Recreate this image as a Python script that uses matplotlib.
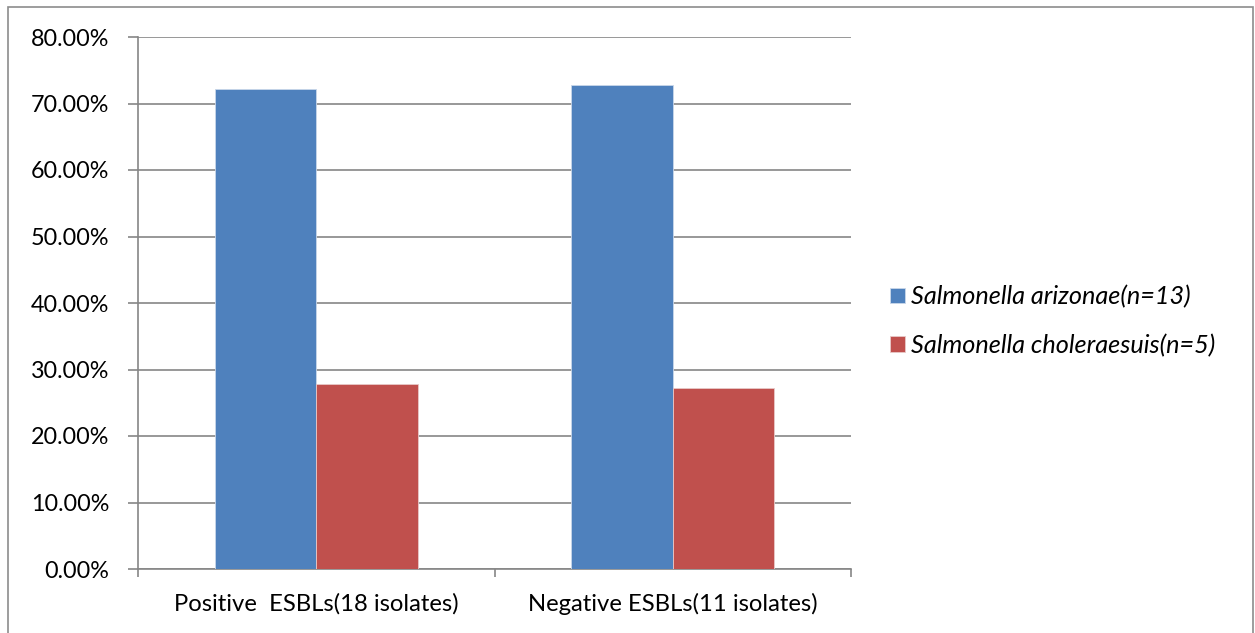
import matplotlib
matplotlib.use("Agg")
import matplotlib.pyplot as plt
from matplotlib.patches import Rectangle
from matplotlib.ticker import FuncFormatter, MultipleLocator
import numpy as np

categories = ["Positive  ESBLs(18 isolates)", "Negative ESBLs(11 isolates)"]
series_names = ["Salmonella arizonae(n=13)", "Salmonella choleraesuis(n=5)"]
arizonae = [72.22, 72.73]
choleraesuis = [27.78, 27.27]
colors = ["#4F81BD", "#C0504D"]

plt.rcParams["font.family"] = ["Lato", "DejaVu Sans"]

W, H = 1255, 633
fig = plt.figure(figsize=(W / 100, H / 100), dpi=100)
fig.patch.set_facecolor("white")

# outer chart frame
fig.add_artist(Rectangle((8 / W, -0.01), (1253 - 8) / W, 1 - 7 / H + 0.01,
                         transform=fig.transFigure, fill=False,
                         edgecolor="#8c8c8c", lw=1.2))

ax = fig.add_axes([138 / W, 1 - 569 / H, (851 - 138) / W, (569 - 37) / H])

x = np.arange(len(categories))
bw = 0.285
ax.bar(x - bw / 2, arizonae, bw, color=colors[0], edgecolor="#c9d7ea",
       lw=0.6, label=series_names[0], zorder=3)
ax.bar(x + bw / 2, choleraesuis, bw, color=colors[1], edgecolor="#e8c9c8",
       lw=0.6, label=series_names[1], zorder=3)

ax.set_xlim(-0.5, len(categories) - 0.5)
ax.set_ylim(0, 80)
ax.yaxis.set_major_locator(MultipleLocator(10))
ax.yaxis.set_major_formatter(FuncFormatter(lambda v, p: f"{v:.2f}%"))
ax.grid(axis="y", color="#868686", lw=1.2, zorder=0)

for s in ["top", "right"]:
    ax.spines[s].set_visible(False)
for s in ["left", "bottom"]:
    ax.spines[s].set_color("#868686")
    ax.spines[s].set_linewidth(1.2)

ax.tick_params(axis="y", length=7, width=1.2, color="#868686", pad=13.5,
               labelsize=16.8, labelcolor="black")
ax.set_xticks(np.arange(-0.5, len(categories)), minor=False)
ax.set_xticklabels([])
ax.set_xticks(x, minor=True)
ax.set_xticklabels(categories, minor=True)
ax.tick_params(axis="x", which="major", length=6, width=1.2, color="#868686")
ax.tick_params(axis="x", which="minor", length=0, pad=17, labelsize=17.2,
               labelcolor="black")

ax.legend(loc="center left", bbox_to_anchor=(890 / W, 1 - 321 / H),
          bbox_transform=fig.transFigure, frameon=False,
          prop={"style": "italic", "size": 18.2},
          handlelength=0.58, handleheight=0.58, handletextpad=0.25,
          labelspacing=1.0, borderpad=0, borderaxespad=0)

fig.savefig("out.png", dpi=100, facecolor="white")
